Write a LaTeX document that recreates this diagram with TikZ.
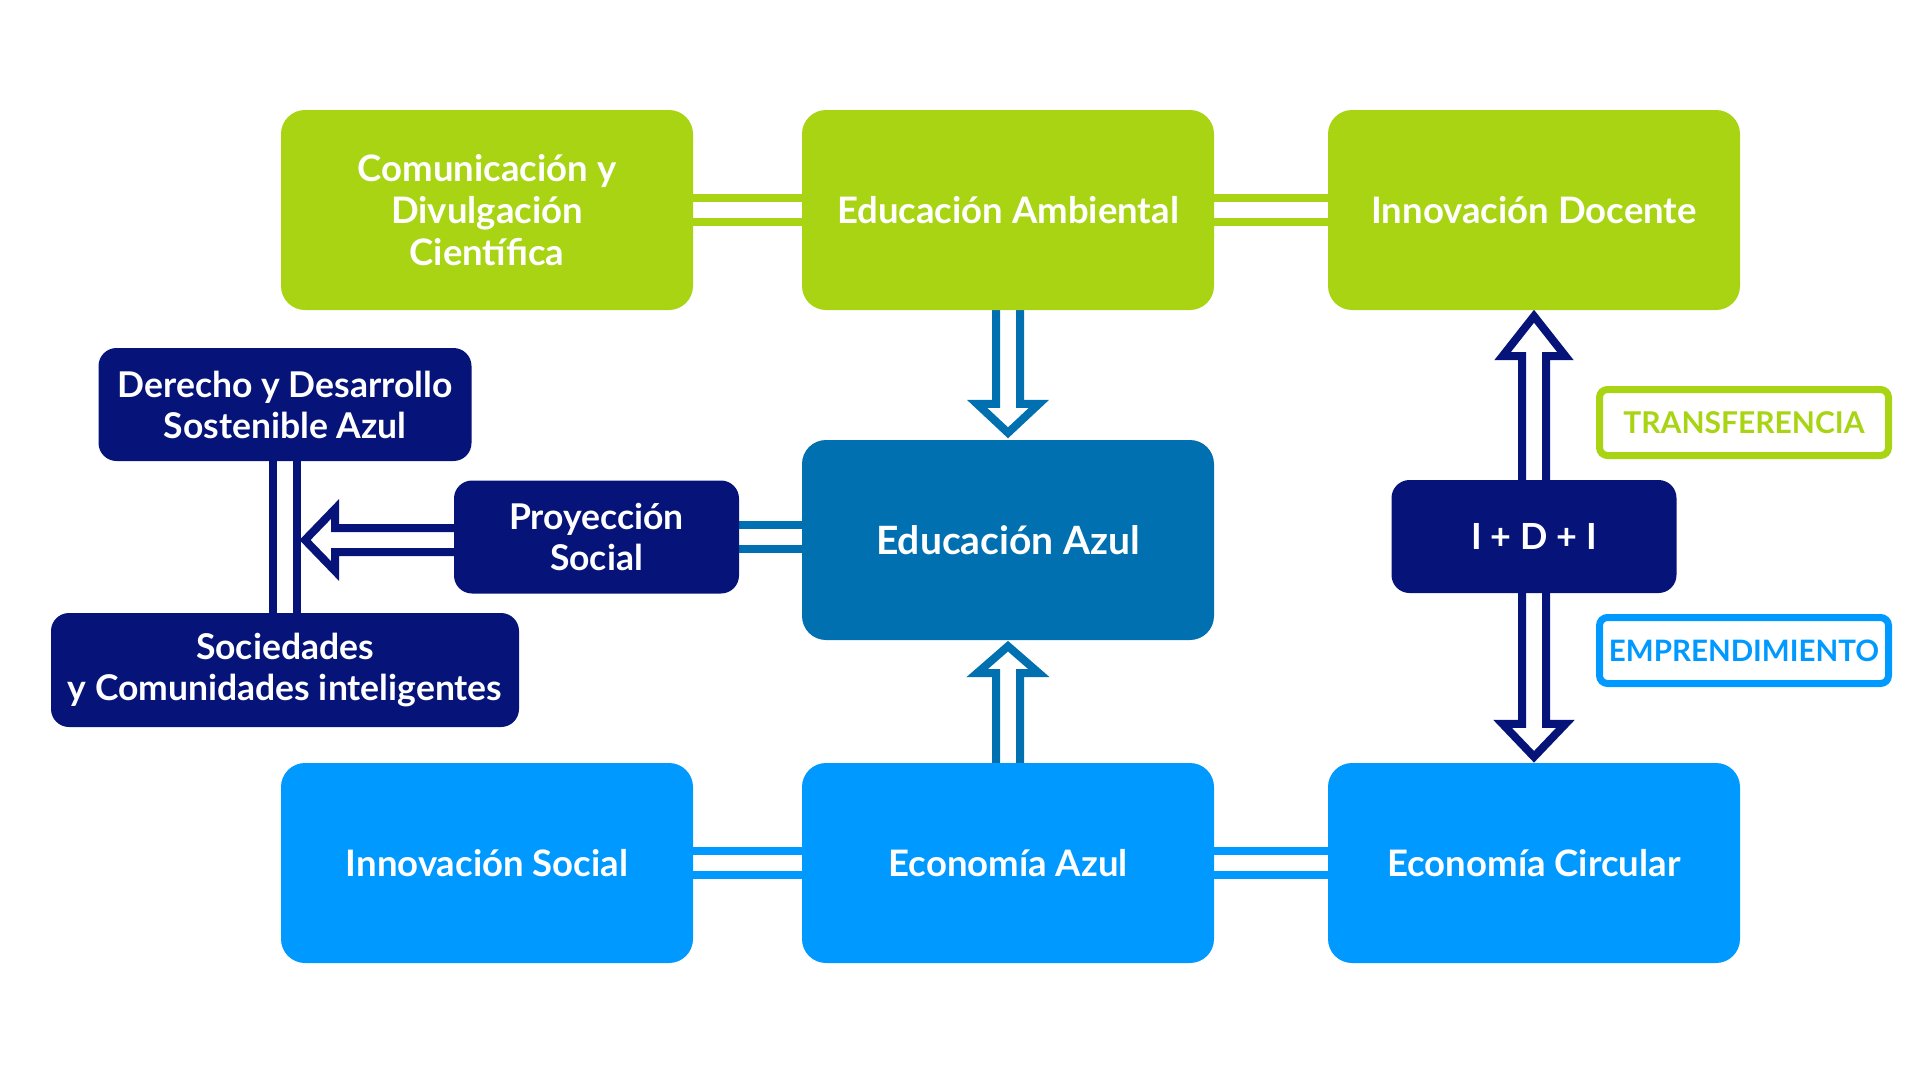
\documentclass[tikz,border=0pt]{standalone}
\usepackage{fontspec}
\setmainfont{Lato}
\usetikzlibrary{calc,backgrounds}
\definecolor{cgreen}{HTML}{A8D414}
\definecolor{cnavy}{HTML}{06147A}
\definecolor{cdblue}{HTML}{0070B0}
\definecolor{clblue}{HTML}{0099FF}
\begin{document}
\begin{tikzpicture}[x=1pt,y=-1pt,
  box/.style={rectangle, rounded corners=24pt, minimum width=412pt, minimum height=200pt, text=white, align=center, inner sep=0pt, font=\fontsize{36.5}{42}\selectfont\bfseries},
  sbox/.style={box, rounded corners=18pt, minimum height=113pt, font=\fontsize{35.5}{41}\selectfont\bfseries},
  tagbox/.style={rectangle, rounded corners=8pt, line width=7pt, minimum width=289pt, minimum height=66pt, fill=white, inner sep=0pt},
  dbl/.style={line width=8pt, double=white, double distance=16pt},
  harr/.style={draw=#1, fill=white, line width=8pt, line join=miter},
]
\useasboundingbox (0,0) rectangle (1921,1081);
% boxes
\node[box, fill=cgreen] (com) at (487,210) {Comunicación y\\Divulgación\\Científica};
\node[box, fill=cgreen] (eamb) at (1008,210) {Educación Ambiental};
\node[box, fill=cgreen] (idoc) at (1534,210) {Innovación Docente};
\node[box, fill=cdblue, font=\fontsize{39}{44}\selectfont\bfseries] (eazul) at (1008,540) {Educación Azul};
\node[box, fill=clblue] (isoc) at (487,863) {Innovación Social};
\node[box, fill=clblue] (ecoazul) at (1008,863) {Economía Azul};
\node[box, fill=clblue] (ecirc) at (1534,863) {Economía Circular};
\node[sbox, fill=cnavy, minimum width=373pt] (der) at (285,404.5) {Derecho y Desarrollo\\Sostenible Azul};
\node[sbox, fill=cnavy, minimum width=285pt] (proy) at (596.5,537) {Proyección\\Social};
\node[sbox, fill=cnavy, minimum width=468pt, minimum height=114pt] (soc) at (285,670) {Sociedades\\y Comunidades inteligentes};
\node[sbox, fill=cnavy, minimum width=285pt, font=\fontsize{36}{41}\selectfont\bfseries] (idi) at (1534,536.5) {I + D + I};
\node[tagbox, draw=cgreen, text=cgreen, font=\fontsize{30}{34}\selectfont\bfseries] (transf) at (1744,422.5) {TRANSFERENCIA};
\node[tagbox, draw=clblue, text=clblue, font=\fontsize{29.5}{34}\selectfont\bfseries] (empr) at (1744,650.5) {EMPRENDIMIENTO};
\coordinate (vl) at ($(der.south)!0.5!(soc.north)$);
\coordinate (lt) at ([yshift=-3pt]proy.west -| vl);
\begin{scope}[on background layer]
  \draw[dbl, draw=cgreen] (com.east) -- (eamb.west);
  \draw[dbl, draw=cgreen] (eamb.east) -- (idoc.west);
  \draw[dbl, draw=clblue] (isoc.east) -- (ecoazul.west);
  \draw[dbl, draw=clblue] (ecoazul.east) -- (ecirc.west);
  \draw[dbl, draw=cdblue] (proy.east) -- (proy.east -| eazul.west);
  \draw[dbl, draw=cnavy] (der.south) -- (soc.north);
  % Educacion Ambiental -> Educacion Azul
  \draw[harr=cdblue] ([xshift=-12pt]eamb.south) -- ([xshift=-12pt,yshift=36pt]eazul.north) -- ([xshift=-31pt,yshift=36pt]eazul.north) -- ([yshift=7pt]eazul.north) -- ([xshift=31pt,yshift=36pt]eazul.north) -- ([xshift=12pt,yshift=36pt]eazul.north) -- ([xshift=12pt]eamb.south);
  % Economia Azul -> Educacion Azul
  \draw[harr=cdblue] ([xshift=-12pt]ecoazul.north) -- ([xshift=-12pt,yshift=-33pt]eazul.south) -- ([xshift=-31pt,yshift=-33pt]eazul.south) -- ([yshift=-6pt]eazul.south) -- ([xshift=31pt,yshift=-33pt]eazul.south) -- ([xshift=12pt,yshift=-33pt]eazul.south) -- ([xshift=12pt]ecoazul.north);
  % I+D+I -> Innovacion Docente
  \draw[harr=cnavy] ([xshift=-12pt]idi.north) -- ([xshift=-12pt,yshift=-46pt]idoc.south) -- ([xshift=-31.5pt,yshift=-46pt]idoc.south) -- ([yshift=-6pt]idoc.south) -- ([xshift=31.5pt,yshift=-46pt]idoc.south) -- ([xshift=12pt,yshift=-46pt]idoc.south) -- ([xshift=12pt]idi.north);
  % I+D+I -> Economia Circular
  \draw[harr=cnavy] ([xshift=-12pt]idi.south) -- ([xshift=-12pt,yshift=39pt]ecirc.north) -- ([xshift=-31.5pt,yshift=39pt]ecirc.north) -- ([yshift=6pt]ecirc.north) -- ([xshift=31.5pt,yshift=39pt]ecirc.north) -- ([xshift=12pt,yshift=39pt]ecirc.north) -- ([xshift=12pt]idi.south);
  % Proyeccion Social -> left
  \draw[harr=cnavy] ([yshift=9pt]proy.west) -- ([xshift=50pt,yshift=12pt]lt) -- ([xshift=50pt,yshift=31pt]lt) -- ([xshift=20pt]lt) -- ([xshift=50pt,yshift=-31pt]lt) -- ([xshift=50pt,yshift=-12pt]lt) -- ([yshift=-15pt]proy.west);
\end{scope}
\end{tikzpicture}
\end{document}
